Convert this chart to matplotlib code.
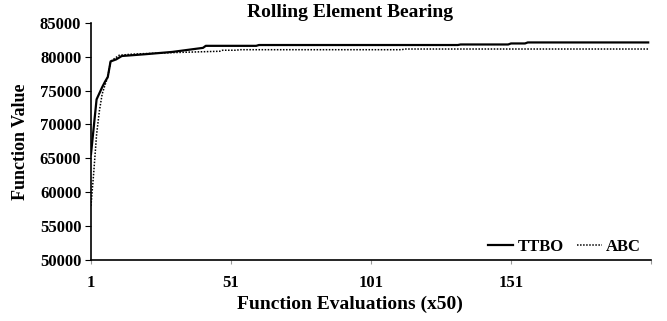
import matplotlib
matplotlib.use("Agg")
import matplotlib.pyplot as plt

# best-so-far values (iteration, value)
ttbo_iter = [1, 3, 5, 6, 7, 8, 10, 12, 20, 30, 41, 42, 60, 61, 132, 133, 150, 151, 156, 157, 200]
ttbo_val = [65600, 73700, 75500, 76300, 77000, 79300, 79600, 80100, 80350, 80700, 81300,
            81600, 81600, 81720, 81720, 81800, 81800, 81950, 81950, 82100, 82100]

abc_iter = [1, 2, 3, 4, 5, 6, 7, 8, 9, 11, 15, 20, 30, 47, 48, 53, 54, 112, 113, 200]
abc_val = [58000, 63000, 68500, 72000, 74500, 75800, 77000, 79300, 79600, 80200, 80350,
           80450, 80600, 80800, 80950, 80950, 81030, 81030, 81130, 81130]

x_ticks = [1, 51, 101, 151, 201]
x_tick_labels = ["1", "51", "101", "151", ""]
y_ticks = [50000, 55000, 60000, 65000, 70000, 75000, 80000, 85000]

plt.rcParams['font.family'] = ['Liberation Serif', 'DejaVu Serif']
plt.rcParams['font.weight'] = 'bold'

fig = plt.figure(figsize=(6.67, 3.21), dpi=100)
ax = fig.add_axes([0.1364, 0.19, 0.8396, 0.739])

ax.plot(ttbo_iter, ttbo_val, color='black', lw=1.6, label='TTBO')
ax.plot(abc_iter, abc_val, color='black', lw=1.1, linestyle=(0, (1, 1)), label='ABC')

ax.set_xlim(1, 201)
ax.set_ylim(50000, 85000)
ax.set_xticks(x_ticks)
ax.set_xticklabels(x_tick_labels, fontsize=12, fontweight='bold')
ax.set_yticks(y_ticks)
ax.set_yticklabels([str(v) for v in y_ticks], fontsize=12, fontweight='bold')
ax.tick_params(axis='x', length=3, color='#999999', pad=8)
ax.tick_params(axis='y', length=4, pad=3)

for s in ['top', 'right']:
    ax.spines[s].set_visible(False)
ax.spines['left'].set_linewidth(1.2)
ax.spines['bottom'].set_linewidth(1.2)

ax.set_title('Rolling Element Bearing', fontsize=14, fontweight='bold', pad=4, x=0.4625)
ax.set_xlabel('Function Evaluations (x50)', fontsize=14, fontweight='bold', labelpad=3, x=0.4625)
ax.set_ylabel('Function Value', fontsize=13, fontweight='bold', labelpad=8)

ax.legend(loc='lower right', ncol=2, frameon=False, fontsize=12,
          handlelength=1.5, columnspacing=0.8, handletextpad=0.25,
          bbox_to_anchor=(1.0, -0.02), borderaxespad=0.2)

fig.savefig('out.png', dpi=100)
